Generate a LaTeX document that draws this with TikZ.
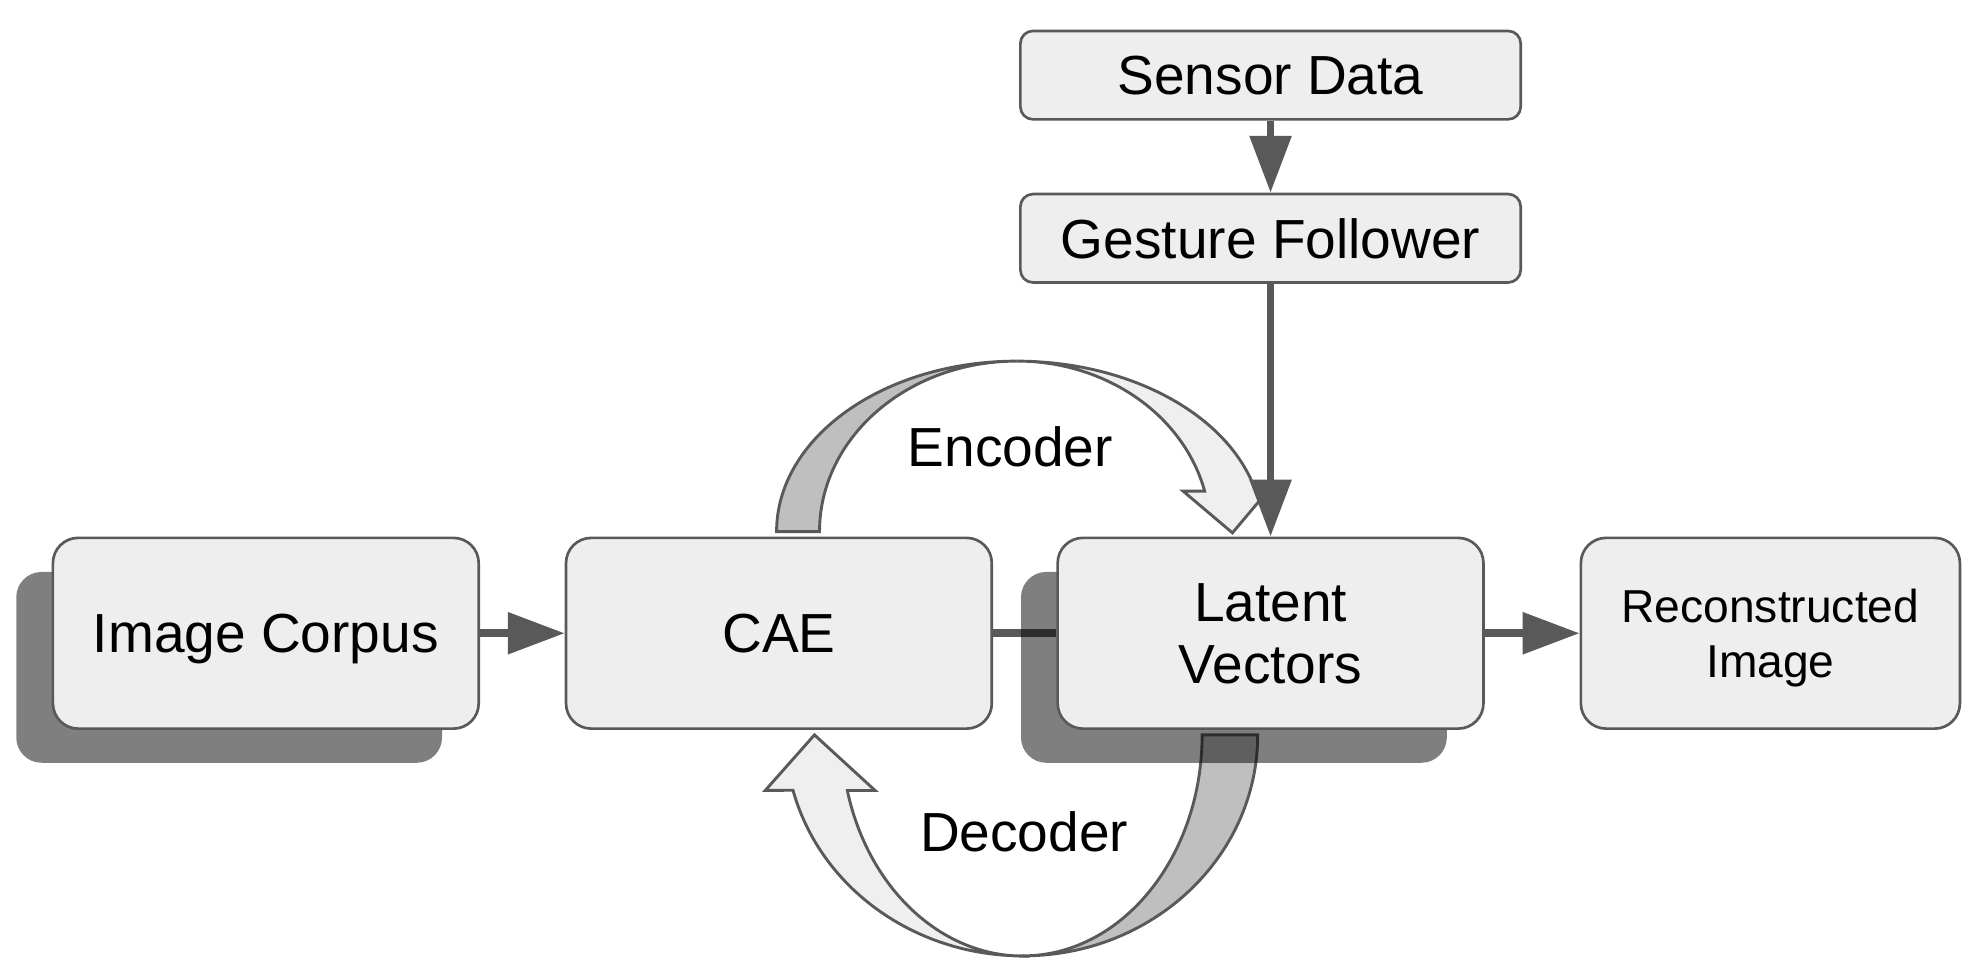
\documentclass[tikz,border=0pt]{standalone}
\usepackage{fontspec}
\setmainfont{Liberation Sans}
\usetikzlibrary{positioning, shadows, backgrounds, arrows.meta}
\definecolor{linegray}{HTML}{595959}
\definecolor{boxgray}{HTML}{EEEEEE}
\definecolor{banddark}{HTML}{BFBFBF}
\definecolor{bandlight}{HTML}{EFEFEF}

\begin{document}
\begin{tikzpicture}[x=0.01cm, y=0.01cm, line join=round,
    box/.style={draw=linegray, fill=boxgray, line width=0.6pt, rounded corners=0.2cm,
      minimum width=3.37cm, minimum height=1.51cm, inner sep=0pt, align=center,
      text depth=0pt, font=\fontsize{12.4}{14}\selectfont},
    slim/.style={box, minimum width=3.96cm, minimum height=0.70cm, rounded corners=0.1cm},
    shadowed/.style={drop shadow={shadow xshift=-0.29cm, shadow yshift=-0.27cm, fill=black, opacity=0.5}},
    flow/.style={draw=linegray, line width=1.7pt, -{Triangle[length=0.45cm, width=0.32cm]}},
    band/.style={draw=linegray, line width=0.65pt},
    tag/.style={font=\fontsize{12.4}{14}\selectfont}] % on background: lines under the shadows

  \useasboundingbox (0,0) rectangle (1568,-774);

  \node[box, shadowed] (corpus) at (210.5,-501.5) {Image Corpus};
  \node[box] (cae) [right=0.67cm of corpus] {CAE};
  \node[box, shadowed] (latent) [right=0.50cm of cae] {Latent\\Vectors};
  \node[box, minimum width=3.00cm, font=\fontsize{10.4}{12.5}\selectfont] (recon) [right=0.75cm of latent] {Reconstructed\\Image};
  \node[slim] (gesture) [above=2.00cm of latent] {Gesture Follower};
  \node[slim] (sensor) [above=0.57cm of gesture] {Sensor Data};

  \node[tag] (enc) at (800,-354) {Encoder};
  \node[tag] (dec) at (811,-659) {Decoder};

  \begin{scope}[on background layer]
    % encoder band
    \draw[band, fill=banddark] (615,-421) arc[start angle=180, end angle=90, x radius=190, y radius=135]
      arc[start angle=90, end angle=180, x radius=156, y radius=135] -- cycle;
    \draw[band, fill=bandlight] (805,-286) arc[start angle=90, end angle=15, x radius=195, y radius=135]
      -- (1008,-384) -- (976,-422) -- (937,-389) -- (954,-389)
      arc[start angle=13.7, end angle=90, x radius=153, y radius=135] -- cycle;
    % decoder band
    \draw[band, fill=banddark] (996,-582) arc[start angle=0, end angle=-90, x radius=186, y radius=175]
      arc[start angle=-90, end angle=0, x radius=142, y radius=175] -- cycle;
    \draw[band, fill=bandlight] (810,-757) arc[start angle=-90, end angle=-165.5, x radius=188, y radius=175]
      -- (606,-626) -- (645,-582) -- (693,-626) -- (671,-626)
      arc[start angle=-165.5, end angle=-90, x radius=144, y radius=175] -- cycle;

    \draw[flow] (corpus) -- (cae);
    \draw[draw=linegray, line width=1.7pt] (cae) -- (latent);
    \draw[flow] (latent) -- (recon);
    \draw[flow] (sensor) -- (gesture);
    \draw[flow] (gesture) -- (latent);
  \end{scope}
\end{tikzpicture}
\end{document}
